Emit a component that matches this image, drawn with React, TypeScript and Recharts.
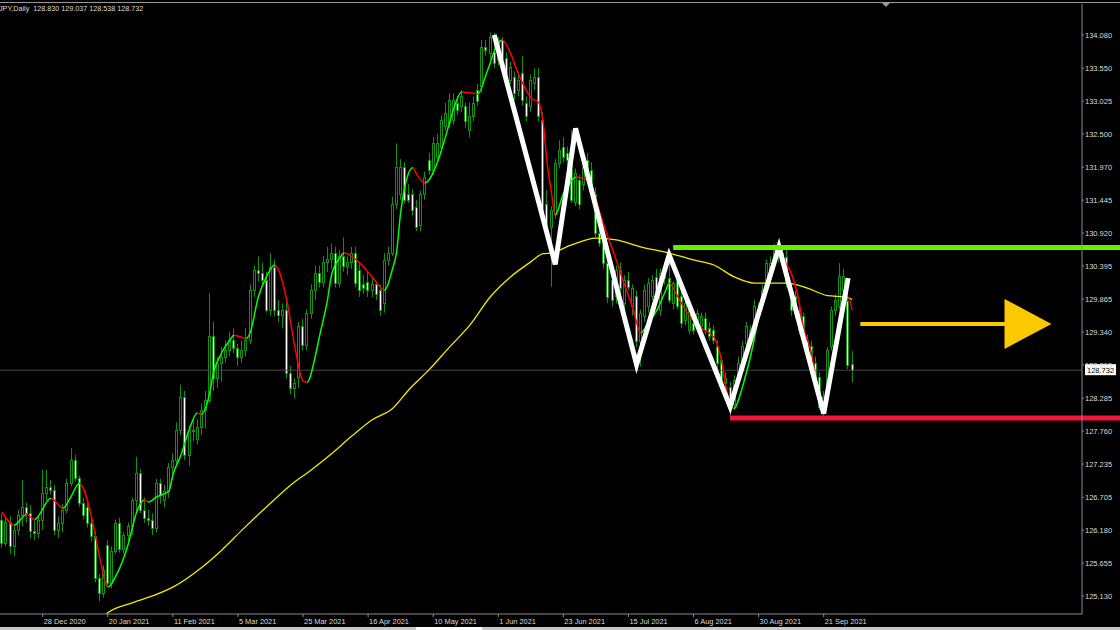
import React from 'react';
import { ComposedChart, Bar, Line, XAxis, YAxis, ReferenceLine } from 'recharts';

// EURJPY daily candles
const opens = [
  126.34,125.97,126.31,125.92,126.18,126.42,126.55,126.45,126.16,126.13,
  126.34,126.77,126.87,126.82,126.18,126.29,126.50,126.93,127.30,127.01,
  126.61,126.55,126.29,126.08,125.41,125.17,125.95,125.33,125.84,126.29,
  125.88,126.10,126.24,126.66,127.09,126.50,126.37,126.34,126.21,126.93,
  126.66,126.80,127.19,127.30,127.78,128.31,127.38,127.78,127.64,127.83,
  128.10,128.26,129.27,128.60,128.84,128.95,129.05,129.21,129.08,128.95,
  129.05,129.21,130.01,130.33,130.28,130.17,129.69,130.38,129.69,129.61,
  129.70,128.68,128.44,128.63,129.43,129.13,129.64,130.01,130.28,130.14,
  130.45,130.50,130.60,130.12,130.55,130.40,130.45,130.60,130.33,130.10,
  130.14,130.01,130.10,130.01,129.80,130.49,130.60,131.39,131.55,131.98,
  131.55,131.55,131.34,131.05,131.55,132.09,131.93,132.14,132.30,132.62,
  132.67,132.72,132.99,132.94,132.94,132.56,132.78,133.20,133.26,133.89,
  133.79,133.81,133.68,134.00,133.71,133.36,133.41,133.20,133.47,132.99,
  132.94,133.31,133.41,132.72,131.39,131.02,131.23,132.03,132.30,132.19,
  132.09,131.42,131.77,131.71,132.08,131.93,131.55,130.92,130.76,130.44,
  130.17,129.91,130.33,129.80,130.17,129.75,129.91,129.20,129.59,129.75,
  129.91,130.22,129.69,130.28,130.20,129.80,130.17,129.91,129.53,129.37,
  129.48,129.43,129.43,129.56,129.40,129.37,129.11,128.90,128.52,128.47,
  128.20,128.58,128.84,129.16,129.21,129.37,129.59,129.80,130.01,130.28,
  130.44,130.65,130.44,130.54,130.01,129.91,129.64,129.59,129.21,129.11,
  128.84,128.63,128.10,128.31,129.11,129.69,129.75,130.01,129.83,128.83,
];
const highs = [
  126.45,126.40,126.40,126.25,126.50,126.98,126.62,126.58,126.34,126.40,
  127.14,127.14,126.98,126.90,126.40,126.60,127.00,127.49,127.38,127.05,
  126.70,126.62,126.36,126.15,125.48,125.62,126.02,125.92,126.35,126.38,
  126.15,126.30,126.70,127.35,127.15,126.70,126.50,126.45,127.00,127.00,
  126.90,127.25,127.40,127.90,128.50,128.40,127.85,127.95,127.95,128.20,
  128.40,129.96,129.51,128.95,129.10,129.20,129.35,129.40,129.15,129.20,
  129.40,130.10,130.40,130.55,130.45,130.30,130.60,130.50,129.85,129.80,
  129.85,128.80,128.60,129.50,129.55,129.70,130.10,130.40,130.40,130.55,
  130.70,130.75,130.70,130.65,130.85,130.55,130.70,130.70,130.45,130.25,
  130.30,130.20,130.15,130.10,130.60,130.70,131.50,132.35,132.10,132.05,
  131.70,131.62,131.45,131.60,131.90,132.20,132.45,132.50,132.80,133.00,
  133.15,133.15,133.10,133.20,133.00,133.00,133.10,133.30,134.00,134.00,
  134.12,134.11,134.05,134.05,133.80,133.65,133.50,133.50,133.75,133.10,
  133.45,133.55,133.55,132.85,131.60,131.35,132.10,132.40,132.45,132.30,
  132.56,131.95,131.85,132.05,132.20,132.05,131.65,131.00,130.85,130.55,
  130.30,130.40,130.45,130.25,130.30,130.10,130.00,129.70,130.10,130.20,
  130.25,130.35,130.35,130.45,130.62,130.15,130.25,130.00,129.90,129.75,
  129.60,129.70,129.65,129.65,129.50,129.45,129.20,128.95,128.70,128.55,
  128.65,128.95,129.20,129.50,129.45,129.85,129.80,130.10,130.50,130.55,
  130.75,130.80,130.70,130.65,130.10,130.00,129.75,129.65,129.30,129.20,
  128.95,128.70,128.40,129.10,129.75,129.95,130.44,130.35,130.00,129.037,
];
const lows = [
  125.90,125.92,125.80,125.76,126.10,126.24,126.30,126.05,126.02,126.05,
  126.18,126.65,126.75,126.10,126.05,126.15,126.45,126.88,126.95,126.55,
  126.35,126.22,126.00,125.35,125.04,125.10,125.28,125.25,125.80,125.82,
  125.80,126.00,126.10,126.45,126.45,126.30,126.25,126.10,126.15,126.60,
  126.55,126.70,126.98,127.20,127.70,127.30,127.20,127.60,127.55,127.70,
  127.80,128.20,128.40,128.45,128.55,128.85,128.95,129.00,128.80,128.85,
  128.95,129.15,129.90,130.15,130.10,129.65,129.60,129.60,129.50,129.40,
  128.60,128.35,128.28,128.45,129.05,129.05,129.55,129.85,130.05,130.05,
  130.30,130.35,130.05,130.05,130.30,130.25,130.35,130.05,129.90,129.95,
  129.90,129.90,129.85,129.60,129.65,130.40,130.55,131.30,131.45,131.40,
  131.40,131.20,130.95,130.95,131.45,131.85,131.85,132.05,132.20,132.55,
  132.60,132.65,132.80,132.85,132.60,132.45,132.70,132.95,133.15,133.75,
  133.70,133.55,133.60,133.65,133.30,133.30,133.05,133.10,132.95,132.70,
  132.85,133.20,132.70,131.10,130.95,130.06,131.15,131.95,132.05,131.95,
  131.40,131.35,131.30,131.60,131.85,131.50,130.85,130.70,130.35,129.80,
  129.75,129.80,129.95,129.70,130.00,129.60,129.10,128.79,129.50,129.65,
  129.85,129.85,129.60,130.10,129.80,129.70,129.70,129.40,129.45,129.30,
  129.30,129.35,129.35,129.30,129.20,129.15,128.75,128.45,128.30,127.94,
  128.10,128.50,128.75,129.05,129.10,129.30,129.50,129.70,129.95,130.20,
  130.35,130.45,130.35,130.05,129.60,129.55,129.30,129.15,128.90,128.70,
  128.45,128.10,127.95,128.25,129.05,129.60,129.70,129.95,128.75,128.538,
];
const closes = [
  125.97,126.31,125.92,126.18,126.42,126.55,126.45,126.16,126.13,126.34,
  126.77,126.87,126.82,126.18,126.29,126.50,126.93,127.30,127.01,126.61,
  126.42,126.29,126.08,125.41,125.17,125.55,125.33,125.84,126.29,125.88,
  126.10,126.24,126.66,127.09,126.50,126.37,126.34,126.21,126.93,126.74,
  126.80,127.19,127.30,127.78,128.31,127.38,127.78,127.76,127.83,128.10,
  128.26,129.27,128.60,128.84,128.95,129.05,129.21,129.08,128.95,129.05,
  129.21,130.01,130.33,130.28,130.17,129.69,130.38,129.69,129.61,129.70,
  128.68,128.44,128.52,129.43,129.13,129.64,130.01,130.28,130.14,130.45,
  130.50,130.60,130.12,130.55,130.40,130.45,130.60,130.12,130.01,130.05,
  130.01,130.10,129.95,129.69,130.49,130.60,131.39,131.98,131.98,131.45,
  131.45,131.29,131.02,131.55,131.82,131.93,132.35,132.35,132.72,132.83,
  133.04,133.04,132.88,133.10,132.70,132.78,132.99,133.02,133.89,133.84,
  134.05,133.63,134.00,133.71,133.39,133.57,133.15,133.36,133.04,132.78,
  133.36,133.41,132.78,131.18,131.02,131.29,132.03,132.25,132.14,132.09,
  131.45,131.87,131.39,131.98,131.93,131.55,130.92,130.76,130.44,129.90,
  129.85,130.33,130.05,130.17,130.06,130.04,129.20,129.64,130.01,130.12,
  130.17,129.91,130.28,130.20,129.85,130.12,129.75,129.48,129.80,129.69,
  129.37,129.64,129.59,129.37,129.28,129.21,128.84,128.52,128.60,128.26,
  128.58,128.84,129.11,129.43,129.37,129.75,129.69,130.01,130.44,130.44,
  130.65,130.55,130.60,130.12,129.69,129.64,129.37,129.21,129.00,128.79,
  128.52,128.15,128.31,129.05,129.69,129.85,130.23,130.23,128.82,128.732,
];

// short moving average (green when rising, red when falling)
const fastIdx = [
  0,3,6,8,12,15,17,19,22,24,26,28,31,33,35,36,38,41,42,44,46,48,49,51,52,54,56,57,60,61,
  63,65,67,70,72,74,75,77,78,80,81,83,84,88,91,94,96,97,98,99,101,102,104,107,109,111,113,115,117,119,
  120,121,123,125,127,128,130,132,133,134,135,136,138,140,141,143,145,147,149,151,153,155,157,159,161,163,164,166,168,170,
  172,175,177,178,179,180,181,182,184,185,187,189,190,191,193,194,196,197,199,200,201,202,203,204,206,207,208,209,
];
const fastVal = [
  126.47,126.26,126.43,126.35,126.69,126.53,126.72,126.93,126.40,125.75,125.27,125.45,125.95,126.45,126.66,126.63,126.71,126.80,127.06,127.38,127.78,128.05,128.03,128.35,128.69,129.01,129.21,129.29,129.24,129.33,
  129.90,130.22,130.41,129.85,129.10,128.56,128.54,128.95,129.26,129.85,130.25,130.52,130.60,130.44,130.22,130.01,130.35,130.62,131.25,131.65,131.96,131.85,131.72,132.04,132.45,132.90,133.17,133.16,133.14,133.45,
  133.63,133.82,134.00,133.79,133.45,133.31,133.08,133.00,132.70,132.04,131.60,131.21,131.55,131.75,131.81,131.79,131.65,131.24,130.85,130.49,130.10,129.74,129.33,129.50,129.69,129.98,130.12,129.92,129.69,129.52,
  129.40,129.26,128.85,128.46,128.20,128.12,128.25,128.46,128.95,129.25,129.90,130.35,130.55,130.60,130.40,130.28,129.80,129.42,129.00,128.62,128.35,128.10,128.40,128.80,129.45,129.75,129.90,129.69,
];

// long moving average (yellow)
const slowIdx = [25,26,32,37,42,49,54,59,66,71,76,81,86,91,96,100,105,110,115,120,125,130,133,135,140,146,151,157,164,170,175,180,185,190,193,198,203,207,209];
const slowVal = [124.80,124.86,125.02,125.13,125.27,125.58,125.86,126.18,126.61,126.90,127.14,127.40,127.68,127.94,128.12,128.42,128.74,129.10,129.45,129.90,130.22,130.46,130.59,130.60,130.73,130.84,130.81,130.70,130.60,130.49,130.41,130.22,130.12,130.12,130.12,130.04,129.92,129.90,129.86];

// hand-drawn zigzag
const zigIdx = [121, 136, 141, 156, 164, 179, 191, 202, 208];
const zigVal = [134.08, 130.42, 132.59, 128.82, 130.57, 128.15, 130.70, 128.04, 130.20];

const dateIdx = [10, 26, 42, 58, 74, 90, 106, 122, 138, 154, 170, 186, 202];
const dateLabels = ['28 Dec 2020', '20 Jan 2021', '11 Feb 2021', '5 Mar 2021', '25 Mar 2021', '16 Apr 2021', '10 May 2021', '1 Jun 2021', '23 Jun 2021', '15 Jul 2021', '6 Aug 2021', '30 Aug 2021', '21 Sep 2021'];
const priceTicks = [134.08, 133.55, 133.025, 132.5, 131.97, 131.445, 130.92, 130.395, 129.865, 129.34, 128.815, 128.285, 127.76, 127.235, 126.705, 126.18, 125.655, 125.13];

const resistance = 130.69;
const support = 127.97;
const lastPrice = 128.732;
const arrowLevel = 129.47;

const W = 1120;
const H = 630;
const AXIS_W = 38;
const PLOT_W = W - AXIS_W;
const SLOTS = 266;

const WICK = '#0f920f';
const UP = '#00ff00';
const DOWN = '#ff0000';
const AXIS = '#8c8c8c';
const TXT = '#dcdcdc';
const FONT = '"Liberation Sans", Arial, sans-serif';

const rows = Array.from({ length: SLOTS }, (_, i) => {
  const has = i < opens.length;
  const fi = fastIdx.indexOf(i);
  const si = slowIdx.indexOf(i);
  const zi = zigIdx.indexOf(i);
  return {
    idx: i,
    range: has ? [lows[i], highs[i]] : null,
    o: has ? opens[i] : null,
    h: has ? highs[i] : null,
    l: has ? lows[i] : null,
    c: has ? closes[i] : null,
    fast: fi >= 0 ? fastVal[fi] : null,
    slow: si >= 0 ? slowVal[si] : null,
    zig: zi >= 0 ? zigVal[zi] : null,
  };
});

const fastStops: { off: number; color: string }[] = [];
for (let k = 1; k < fastIdx.length; k++) {
  const col = fastVal[k] >= fastVal[k - 1] ? UP : DOWN;
  fastStops.push({ off: (fastIdx[k - 1] + 0.5) / SLOTS, color: col });
  fastStops.push({ off: (fastIdx[k] + 0.5) / SLOTS, color: col });
}

const Candle = (props: any) => {
  const { x, y, width, height, payload } = props;
  if (!payload || payload.o == null) return null;
  const top0 = Math.min(y, y + height);
  const hh = Math.abs(height);
  const span = payload.h - payload.l || 1;
  const py = (p: number) => top0 + ((payload.h - p) / span) * hh;
  const cx = Math.floor(x + width / 2) + 0.5;
  const bTop = Math.round(py(Math.max(payload.o, payload.c))) + 0.5;
  const bBot = Math.round(py(Math.min(payload.o, payload.c))) + 0.5;
  const bull = payload.c >= payload.o;
  return (
    <g>
      <line x1={cx} x2={cx} y1={top0} y2={top0 + hh} stroke={WICK} strokeWidth={1} />
      <rect x={cx - 1} y={bTop} width={2} height={Math.max(bBot - bTop, 0.5)} fill={bull ? '#000' : '#fff'} stroke={WICK} strokeWidth={1} />
    </g>
  );
};

const DateTick = (props: any) => {
  const { x, payload } = props;
  const k = dateIdx.indexOf(payload.value);
  if (k < 0) return null;
  return (
    <g>
      <line x1={x} x2={x} y1={614} y2={617} stroke={AXIS} />
      <text x={x + 1} y={624} fill={TXT} fontSize={7.4} fontFamily={FONT} textAnchor="start">
        {dateLabels[k]}
      </text>
    </g>
  );
};

const PriceTag = (props: any) => {
  const vb = props.viewBox || {};
  const y = vb.y ?? 0;
  return (
    <g>
      <rect x={PLOT_W + 3} y={y - 6} width={31} height={11} fill="#fff" />
      <text x={PLOT_W + 5} y={y + 3} fontSize={7.5} fontFamily={FONT} fill="#000">
        {lastPrice.toFixed(3)}
      </text>
    </g>
  );
};

const levelShape = (color: string) => (p: any) => (
  <line x1={p.x1} y1={p.y1} x2={W} y2={p.y2} stroke={color} strokeWidth={5} />
);

const ARROW = '#fcc800';
const ArrowShape = (p: any) => {
  const head = 47;
  return (
    <g>
      <line x1={p.x1} y1={p.y1} x2={p.x2 - head + 2} y2={p.y1} stroke={ARROW} strokeWidth={4} />
      <polygon points={`${p.x2 - head},${p.y1 - 25} ${p.x2},${p.y1} ${p.x2 - head},${p.y1 + 25}`} fill={ARROW} />
    </g>
  );
};

export default function App() {
  return (
    <div style={{ position: 'absolute', left: 0, top: 0, width: W, height: H, background: '#000', overflow: 'hidden', fontFamily: FONT }}>
      <ComposedChart width={W} height={H} data={rows} margin={{ top: 4, right: 0, bottom: 0, left: 0 }} barGap={0}>
        <defs>
          <linearGradient id="maGrad" gradientUnits="userSpaceOnUse" x1={0} y1={0} x2={PLOT_W} y2={0}>
            {fastStops.map((s, i) => (
              <stop key={i} offset={s.off} stopColor={s.color} />
            ))}
          </linearGradient>
        </defs>
        <XAxis
          dataKey="idx"
          type="category"
          interval={0}
          height={16}
          tick={<DateTick />}
          tickLine={false}
          axisLine={{ stroke: AXIS }}
        />
        <YAxis
          orientation="right"
          width={AXIS_W}
          type="number"
          domain={[124.842, 134.574]}
          allowDataOverflow
          ticks={priceTicks}
          interval={0}
          tickSize={2}
          tickMargin={1}
          tickFormatter={(v: number) => v.toFixed(3)}
          tick={{ fill: TXT, fontSize: 7.5, fontFamily: FONT, textAnchor: 'start' }}
          tickLine={{ stroke: AXIS }}
          axisLine={{ stroke: AXIS }}
        />
        <ReferenceLine y={lastPrice} stroke="#4a4a4a" strokeWidth={1} label={<PriceTag />} />
        <Bar dataKey="range" shape={<Candle />} isAnimationActive={false} />
        <Line dataKey="slow" type="monotone" stroke="#f2ea00" strokeWidth={1.3} dot={false} activeDot={false} connectNulls isAnimationActive={false} />
        <Line dataKey="fast" type="monotone" stroke="url(#maGrad)" strokeWidth={1.5} dot={false} activeDot={false} connectNulls isAnimationActive={false} />
        <Line dataKey="zig" type="linear" stroke="#ffffff" strokeWidth={5} dot={false} activeDot={false} connectNulls isAnimationActive={false} />
        <ReferenceLine segment={[{ x: 165, y: resistance }, { x: SLOTS - 1, y: resistance }]} shape={levelShape('#66f000')} ifOverflow="visible" />
        <ReferenceLine segment={[{ x: 179, y: support }, { x: SLOTS - 1, y: support }]} shape={levelShape('#f5143c')} ifOverflow="visible" />
        <ReferenceLine segment={[{ x: 211, y: arrowLevel }, { x: 258, y: arrowLevel }]} shape={ArrowShape} ifOverflow="visible" />
      </ComposedChart>
      <div style={{ position: 'absolute', left: 0, top: 2, width: W, height: 1, background: '#9a9a9a' }} />
      <div style={{ position: 'absolute', left: 882, top: 3, width: 0, height: 0, borderLeft: '4px solid transparent', borderRight: '4px solid transparent', borderTop: '4px solid #9a9a9a' }} />
      <div style={{ position: 'absolute', left: -1, top: 4, color: TXT, fontSize: 7.2, whiteSpace: 'pre', lineHeight: '9px' }}>
        JPY,Daily  128.830 129.037 128.538 128.732
      </div>
      <div style={{ position: 'absolute', left: 0, top: 627, width: W, height: 3, background: '#c8c8c8' }} />
      <div style={{ position: 'absolute', left: 416, top: 627, width: 66, height: 3, background: '#ffffff' }} />
    </div>
  );
}
